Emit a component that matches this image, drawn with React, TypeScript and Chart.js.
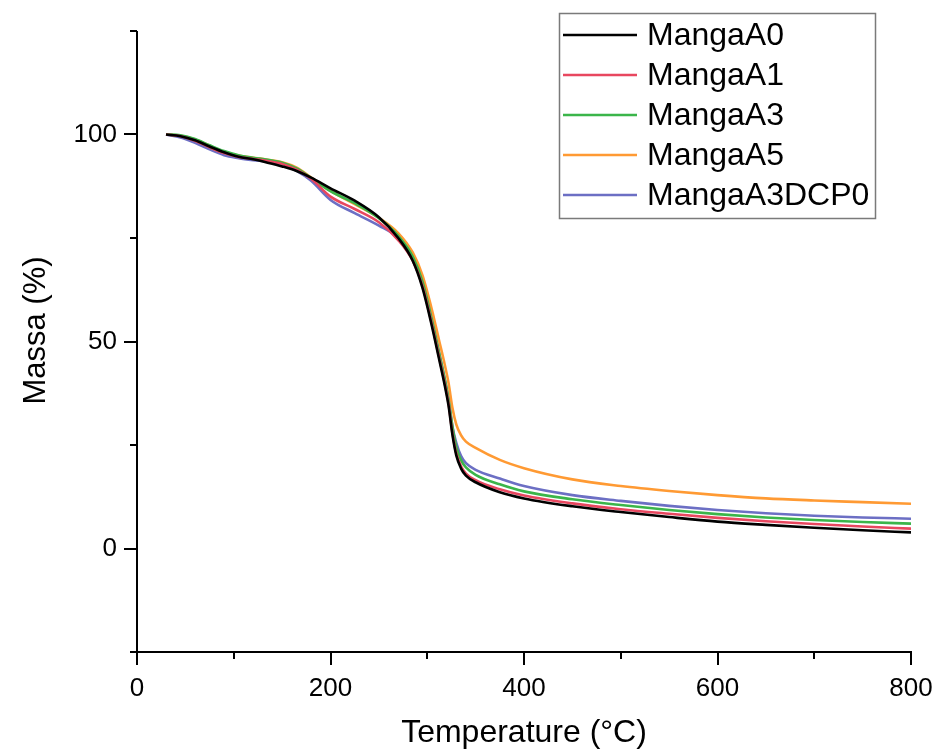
import React, { useEffect, useRef } from 'react';
import { Chart, registerables } from 'chart.js';

Chart.register(...registerables);

const FONT = "'Liberation Sans', Arial, sans-serif";

const temps = [30, 45, 60, 75, 90, 105, 120, 135, 150, 165, 180, 200, 225, 250, 270, 285, 295, 305, 312, 318, 322, 326, 330, 335, 340, 350, 375, 400, 450, 500, 550, 600, 650, 700, 750, 800];

const mangaA0 = [100, 99.6, 98.6, 97.1, 95.7, 94.6, 94.0, 93.2, 92.3, 91.2, 89.6, 87.0, 84.0, 80.0, 75.0, 69.5, 63.0, 53.5, 46.0, 39.5, 34.5, 27.5, 22.5, 19.3, 17.6, 16.0, 13.6, 12.1, 10.2, 8.8, 7.6, 6.5, 5.7, 5.0, 4.4, 3.9];
const mangaA1 = [100, 99.6, 98.5, 96.9, 95.5, 94.6, 94.1, 93.6, 92.9, 91.5, 89.3, 85.0, 82.0, 78.8, 74.5, 69.5, 63.5, 54.0, 46.5, 40.0, 35.0, 28.0, 23.0, 19.8, 18.1, 16.5, 14.3, 12.8, 10.9, 9.5, 8.4, 7.4, 6.6, 5.9, 5.3, 4.8];
const mangaA3 = [100, 99.8, 98.9, 97.4, 96.0, 95.0, 94.4, 93.9, 93.2, 91.8, 89.5, 86.3, 83.4, 79.8, 75.5, 70.5, 64.5, 55.0, 47.5, 41.0, 36.0, 29.5, 24.5, 21.3, 19.6, 17.8, 15.5, 13.8, 11.9, 10.5, 9.3, 8.3, 7.5, 6.9, 6.4, 6.0];
const mangaA5 = [100, 99.7, 98.8, 97.3, 95.8, 94.9, 94.4, 93.9, 93.3, 92.0, 89.6, 86.4, 83.2, 79.9, 76.2, 71.5, 66.0, 57.5, 50.5, 44.5, 40.0, 34.0, 30.0, 27.3, 25.8, 24.3, 21.4, 19.4, 16.7, 15.1, 13.9, 12.9, 12.1, 11.6, 11.2, 10.8];
const mangaA3DCP0 = [100, 99.3, 98.0, 96.4, 95.0, 94.3, 93.8, 93.4, 92.7, 91.2, 88.8, 84.2, 81.0, 78.0, 75.0, 70.5, 64.5, 55.0, 47.5, 41.0, 36.0, 29.5, 25.5, 22.3, 20.6, 19.0, 16.9, 15.1, 12.9, 11.5, 10.3, 9.3, 8.5, 7.9, 7.5, 7.2];

const seriesNames = ['MangaA0', 'MangaA1', 'MangaA3', 'MangaA5', 'MangaA3DCP0'];
const seriesValues = [mangaA0, mangaA1, mangaA3, mangaA5, mangaA3DCP0];
const seriesColors = ['#000000', '#E8475F', '#3BB54A', '#FF9A33', '#6C6FC4'];

const xMin = 0, xMax = 800, xStep = 100, xLabelStep = 200;
const yMin = -25, yMax = 125, yStep = 25, yLabelStep = 50;
const xTitle = 'Temperature (°C)';
const yTitle = 'Massa (%)';

const axesPlugin = {
  id: 'customAxes',
  afterDraw(chart: any) {
    const { ctx, chartArea } = chart;
    const xs = chart.scales.x;
    const ys = chart.scales.y;
    ctx.save();
    ctx.strokeStyle = '#000';
    ctx.lineWidth = 2;
    ctx.lineCap = 'butt';
    ctx.beginPath();
    ctx.moveTo(chartArea.left, chartArea.top);
    ctx.lineTo(chartArea.left, chartArea.bottom + 1);
    ctx.moveTo(chartArea.left - 4, chartArea.bottom);
    ctx.lineTo(chartArea.right + 1, chartArea.bottom);
    ctx.stroke();
    ctx.beginPath();
    for (let v = yMin; v <= yMax; v += yStep) {
      const py = Math.round(ys.getPixelForValue(v));
      const len = v % yLabelStep === 0 ? 13 : 7;
      ctx.moveTo(chartArea.left, py);
      ctx.lineTo(chartArea.left - len, py);
    }
    for (let v = xMin; v <= xMax; v += xStep) {
      const px = Math.round(xs.getPixelForValue(v));
      const len = v % xLabelStep === 0 ? 13 : 7;
      ctx.moveTo(px, chartArea.bottom);
      ctx.lineTo(px, chartArea.bottom + len);
    }
    ctx.stroke();

    ctx.fillStyle = '#000';
    ctx.font = `31px ${FONT}`;
    ctx.textAlign = 'center';
    ctx.textBaseline = 'middle';
    ctx.translate(36, (chartArea.top + chartArea.bottom) / 2 - 11);
    ctx.rotate(-Math.PI / 2);
    ctx.fillText(yTitle, 0, 0);
    ctx.restore();

    ctx.save();
    const bx = chartArea.right - 352;
    const by = chartArea.top - 18;
    ctx.strokeStyle = '#7a7a7a';
    ctx.lineWidth = 1.5;
    ctx.strokeRect(bx + 0.5, by + 0.5, 316, 205);
    ctx.font = `32px ${FONT}`;
    ctx.textAlign = 'left';
    ctx.textBaseline = 'middle';
    chart.data.datasets.forEach((ds: any, i: number) => {
      const cy = by + 22 + i * 40;
      ctx.strokeStyle = ds.borderColor;
      ctx.lineWidth = 2.5;
      ctx.beginPath();
      ctx.moveTo(bx + 4, cy);
      ctx.lineTo(bx + 78, cy);
      ctx.stroke();
      ctx.fillStyle = '#000';
      ctx.fillText(ds.label, bx + 88, cy + 1);
    });
    ctx.restore();
  },
};

export default function App() {
  const ref = useRef<HTMLCanvasElement>(null);
  useEffect(() => {
    if (!ref.current) return;
    const chart = new Chart(ref.current, {
      type: 'line',
      data: {
        datasets: seriesNames.map((name, i) => ({
          label: name,
          data: temps.map((t, j) => ({ x: t, y: seriesValues[i][j] })),
          borderColor: seriesColors[i],
          backgroundColor: seriesColors[i],
          borderWidth: 2.6,
          pointRadius: 0,
          cubicInterpolationMode: 'monotone' as const,
          fill: false,
        })),
      },
      options: {
        animation: false,
        responsive: false,
        maintainAspectRatio: false,
        layout: { padding: { left: 0, right: 27, top: 31, bottom: 0 } },
        plugins: { legend: { display: false }, tooltip: { enabled: false } },
        scales: {
          x: {
            type: 'linear',
            min: xMin,
            max: xMax,
            grid: { display: false, drawTicks: false },
            border: { display: false },
            ticks: {
              stepSize: xStep,
              autoSkip: false,
              maxRotation: 0,
              padding: 21,
              color: '#000',
              font: { family: FONT, size: 26 },
              callback: (v: any) => (Number(v) % xLabelStep === 0 ? String(v) : ''),
            },
            title: {
              display: true,
              text: xTitle,
              color: '#000',
              font: { family: FONT, size: 32 },
              padding: { top: 0, bottom: 1 },
            },
            afterFit: (s: any) => { s.height = 101; s.paddingLeft = 0; s.paddingRight = 0; },
          },
          y: {
            type: 'linear',
            min: yMin,
            max: yMax,
            grid: { display: false, drawTicks: false },
            border: { display: false },
            ticks: {
              stepSize: yStep,
              autoSkip: false,
              padding: 20,
              color: '#000',
              font: { family: FONT, size: 26 },
              callback: (v: any) => (Number(v) % yLabelStep === 0 ? String(v) : ''),
            },
            afterFit: (s: any) => { s.width = 137; s.paddingTop = 0; s.paddingBottom = 0; },
          },
        },
      },
      plugins: [axesPlugin],
    });
    return () => chart.destroy();
  }, []);
  return (
    <div style={{ position: 'absolute', left: 0, top: 0, width: 938, height: 753, background: '#fff' }}>
      <canvas ref={ref} width={938} height={753} style={{ display: 'block' }} />
    </div>
  );
}
